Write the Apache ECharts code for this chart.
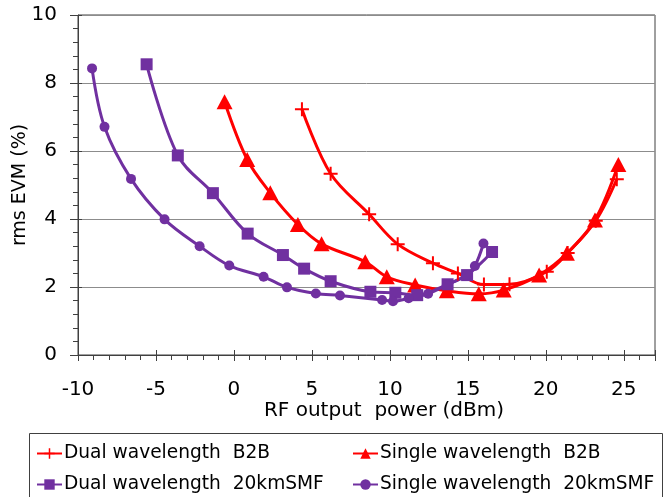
<!DOCTYPE html>
<html><head><meta charset="utf-8">
<script src="https://cdn.jsdelivr.net/npm/echarts@6/dist/echarts.min.js"></script>
<style>html,body{margin:0;padding:0;background:#fff}#c{width:670px;height:497px}</style>
</head><body><div id="c"></div>
<script>
// ---- data ----
const seriesNames = ['Dual wavelength  B2B', 'Single wavelength  B2B', 'Dual wavelength  20kmSMF', 'Single wavelength  20kmSMF'];
const xTicks = [-10, -5, 0, 5, 10, 15, 20, 25];
const yTicks = [0, 2, 4, 6, 8, 10];

const dualB2B_x = [4.36, 6.2, 8.67, 10.5, 12.76, 14.36, 16.03, 17.67, 20.06, 21.4, 23.2, 24.55];
const dualB2B_y = [7.23, 5.33, 4.14, 3.26, 2.7, 2.4, 2.07, 2.08, 2.45, 3.0, 3.95, 5.17];

const singleB2B_x = [-0.6, 0.85, 2.33, 4.1, 5.62, 8.42, 9.8, 11.62, 13.65, 15.7, 17.3, 19.57, 21.35, 23.15, 24.65];
const singleB2B_y = [7.45, 5.75, 4.77, 3.84, 3.27, 2.74, 2.3, 2.06, 1.89, 1.8, 1.91, 2.35, 2.99, 3.97, 5.6];

const dualSMF_x = [-5.6, -3.6, -1.35, 0.88, 3.14, 4.5, 6.2, 8.75, 10.35, 11.75, 13.7, 14.95, 16.55];
const dualSMF_y = [8.55, 5.87, 4.76, 3.57, 2.94, 2.54, 2.17, 1.86, 1.83, 1.76, 2.08, 2.35, 3.03];

const singleSMF_x = [-9.1, -8.3, -6.6, -4.45, -2.2, -0.3, 1.9, 3.4, 5.25, 6.8, 9.5, 10.2, 11.2, 12.45, 13.65, 14.9, 15.45, 16.0];
const singleSMF_y = [8.43, 6.71, 5.18, 3.99, 3.2, 2.63, 2.3, 1.99, 1.81, 1.75, 1.62, 1.58, 1.67, 1.8, 2.06, 2.35, 2.62, 3.28];

// ---- chart ----
const zip = (xs, ys) => xs.map((x, i) => [x, ys[i]]);
const RED = '#FF0000', PURPLE = '#7030A0';
const FONT = 'DejaVu Sans, Liberation Sans, Arial, sans-serif';
const crossPath = 'path://M6,0H8V6H14V8H8V14H6V8H0V6H6Z';

const chart = echarts.init(document.getElementById('c'), null, {renderer: 'canvas'});

function mkSeries(name, data, color, symbol, size) {
  return {
    name, type: 'line', data, smooth: 0.35,
    symbol, symbolSize: size, showSymbol: true,
    lineStyle: {color, width: 3},
    itemStyle: {color, borderWidth: 0},
    emphasis: {disabled: true},
    animation: false, z: 3
  };
}

const baseX = {type: 'value', min: -10, max: 27, interval: 5};
const baseY = {type: 'value', min: 0, max: 10, interval: 2};

function legendAt(name, left, top) {
  return {
    data: [name], left, top, orient: 'horizontal', padding: 0,
    itemWidth: 25, itemHeight: 13, itemGap: 0,
    textStyle: {fontFamily: FONT, fontSize: 18.6, color: '#000', padding: [0, 0, 0, -3]},
    selectedMode: false
  };
}

chart.setOption({
  backgroundColor: '#fff',
  animation: false,
  grid: {left: 78, right: 15, top: 15, bottom: 142, show: true, borderColor: '#404040', borderWidth: 1, backgroundColor: 'transparent'},
  xAxis: [
    Object.assign({}, baseX, {
      position: 'bottom',
      axisLine: {show: true, onZero: false, lineStyle: {color: '#404040', width: 1}},
      axisTick: {show: true, length: 6, lineStyle: {color: '#404040'}},
      minorTick: {show: true, splitNumber: 5, length: 5, lineStyle: {color: '#404040'}},
      axisLabel: {show: true, margin: 25, fontFamily: FONT, fontSize: 20, color: '#000',
        formatter: v => xTicks.indexOf(v) >= 0 ? String(v) : ''},
      splitLine: {show: false}
    }),
    Object.assign({}, baseX, {
      position: 'bottom',
      axisLine: {show: false, onZero: false},
      axisTick: {show: true, inside: true, length: 5, lineStyle: {color: '#404040'}},
      axisLabel: {show: false}, splitLine: {show: false}
    })
  ],
  yAxis: [
    Object.assign({}, baseY, {
      position: 'left',
      axisLine: {show: true, onZero: false, lineStyle: {color: '#404040', width: 1}},
      axisTick: {show: true, length: 8, lineStyle: {color: '#404040'}},
      minorTick: {show: true, splitNumber: 5, length: 5, lineStyle: {color: '#404040'}},
      axisLabel: {show: true, margin: 21, fontFamily: FONT, fontSize: 20, color: '#000',
        formatter: v => yTicks.indexOf(v) >= 0 ? String(v) : ''},
      splitLine: {show: true, lineStyle: {color: '#8c8c8c', width: 1}}
    }),
    Object.assign({}, baseY, {
      position: 'left',
      axisLine: {show: false, onZero: false},
      axisTick: {show: true, inside: true, length: 4, lineStyle: {color: '#404040'}},
      axisLabel: {show: false}, splitLine: {show: false}
    })
  ],
  legend: [
    legendAt(seriesNames[0], 36, 444),
    legendAt(seriesNames[1], 352, 444),
    legendAt(seriesNames[2], 36, 475),
    legendAt(seriesNames[3], 352, 475)
  ],
  series: [
    mkSeries(seriesNames[0], zip(dualB2B_x, dualB2B_y), RED, crossPath, 14),
    mkSeries(seriesNames[1], zip(singleB2B_x, singleB2B_y), RED, 'triangle', [16, 15]),
    mkSeries(seriesNames[2], zip(dualSMF_x, dualSMF_y), PURPLE, 'rect', 12),
    mkSeries(seriesNames[3], zip(singleSMF_x, singleSMF_y), PURPLE, 'circle', 10)
  ],
  graphic: [
    {type: 'rect', shape: {x: 29.5, y: 433.5, width: 633, height: 80}, style: {fill: 'none', stroke: '#404040', lineWidth: 1}, silent: true, z: -1},
    {type: 'text', x: 384, y: 411, style: {text: 'RF output  power (dBm)', fontFamily: FONT, fontSize: 20, fill: '#000', align: 'center', verticalAlign: 'middle'}, silent: true},
    {type: 'text', x: 20, y: 185, rotation: Math.PI / 2, style: {text: 'rms EVM (%)', fontFamily: FONT, fontSize: 19, fill: '#000', align: 'center', verticalAlign: 'middle'}, silent: true}
  ]
});
</script>
</body></html>
